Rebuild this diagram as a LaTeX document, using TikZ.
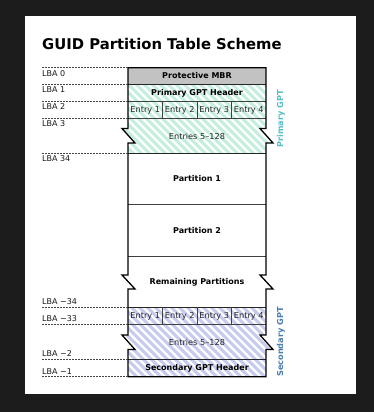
\documentclass[tikz,border=0pt]{standalone}
\usepackage{fontspec}
\setmainfont{DejaVu Sans}
\definecolor{bgdark}{HTML}{1C1C1C}
\definecolor{minthatch}{HTML}{C4EEDD}
\definecolor{lavhatch}{HTML}{C6CAEC}
\definecolor{mbrgray}{HTML}{C2C2C2}
\definecolor{pgptcol}{HTML}{55BEC6}
\definecolor{sgptcol}{HTML}{4A7EB0}
\definecolor{dashcol}{HTML}{444444}
\tikzset{
  outline/.style={line width=1.3pt, black, line join=miter},
  sepline/.style={line width=0.9pt, black!85},
  thinsep/.style={line width=0.8pt, black!75},
  lbaline/.style={dashcol, line width=0.65pt, dash pattern=on 2pt off 1pt},
  lbalabel/.style={anchor=base west, inner sep=0pt, font=\fontsize{8}{9}\selectfont, text=black!90},
  celltext/.style={anchor=base, inner sep=0pt, font=\bfseries\fontsize{8}{9.5}\selectfont},
  entrytext/.style={anchor=base, inner sep=0pt, font=\fontsize{8.2}{9.5}\selectfont, text=black!85},
  sidelabel/.style={rotate=90, inner sep=0pt, font=\bfseries\fontsize{8.2}{9.5}\selectfont},
}
\begin{document}
\begin{tikzpicture}[x=1pt,y=-1pt]
\useasboundingbox (0,0) rectangle (374,412);
\fill[bgdark] (0,0) rectangle (374,412);
\fill[white] (25,16) rectangle (356,394);

% title
\node[anchor=base west, inner sep=0pt, font=\bfseries\fontsize{14.8}{17}\selectfont] (title) at (42,50) {GUID Partition Table Scheme};

% protective MBR fill
\fill[mbrgray] (128,67.7) rectangle (266,84.3);

% primary GPT hatched region
\begin{scope}
\clip (128,84.3) -- (266,84.3) -- (266,128.5) -- (260,128.5) -- (273,143) -- (266,143) -- (266,153.3) -- (128,153.3) -- (128,143) -- (135,143) -- (122,128.5) -- (128,128.5) -- cycle;
\foreach \x in {20,28,...,290} \draw[minthatch, line width=2.9pt] (\x,80) -- ++(80,80);
\end{scope}

% secondary GPT hatched region
\begin{scope}
\clip (128,307.3) -- (266,307.3) -- (266,335) -- (260,335) -- (273,349.5) -- (266,349.5) -- (266,376.7) -- (128,376.7) -- (128,349.5) -- (135,349.5) -- (122,335) -- (128,335) -- cycle;
\foreach \x in {20,28,...,290} \draw[lavhatch, line width=2.9pt] (\x,300) -- ++(85,85);
\end{scope}

% inner separators
\draw[sepline] (128,84.3) -- (266,84.3);
\draw[thinsep] (128,101.3) -- (266,101.3);
\draw[thinsep] (128,118.3) -- (266,118.3);
\draw[sepline] (128,153.3) -- (266,153.3);
\draw[thinsep] (128,204.3) -- (266,204.3);
\draw[thinsep] (128,256) -- (266,256);
\draw[sepline] (128,307.3) -- (266,307.3);
\draw[thinsep] (128,324.3) -- (266,324.3);
\draw[sepline] (128,359.3) -- (266,359.3);
\foreach \x in {162.5,197,231.5} {
  \draw[thinsep] (\x,101.3) -- (\x,118.3);
  \draw[thinsep] (\x,307.3) -- (\x,324.3);
}

% outline
\draw[outline] (128,67.7) -- (266,67.7)
  -- (266,128.5) -- (260,128.5) -- (273,143) -- (266,143)
  -- (266,275) -- (260,275) -- (273,289) -- (266,289)
  -- (266,335) -- (260,335) -- (273,349.5) -- (266,349.5)
  -- (266,376.7) -- (128,376.7)
  -- (128,349.5) -- (135,349.5) -- (122,335) -- (128,335)
  -- (128,289) -- (135,289) -- (122,275) -- (128,275)
  -- (128,143) -- (135,143) -- (122,128.5) -- (128,128.5)
  -- cycle;

% LBA dashed lines and labels
\foreach \yy in {67.7,84.3,101.3,118.3,153.3,307.3,324.3,359.3,376.7}
  \draw[lbaline] (42,\yy) -- (128,\yy);
\node[lbalabel] (lba0) at (42,76) {LBA 0};
\node[lbalabel] (lba1) at (42,92.6) {LBA 1};
\node[lbalabel] (lba2) at (42,109.6) {LBA 2};
\node[lbalabel] (lba3) at (42,126.6) {LBA 3};
\node[lbalabel] (lba34) at (42,161.6) {LBA 34};
\node[lbalabel] (lbam34) at (42,304.6) {LBA −34};
\node[lbalabel] (lbam33) at (42,321.6) {LBA −33};
\node[lbalabel] (lbam2) at (42,356.6) {LBA −2};
\node[lbalabel] (lbam1) at (42,374) {LBA −1};

% cell texts
\node[celltext] (mbr) at (197,78.9) {Protective MBR};
\node[celltext] (pgh) at (197,95.7) {Primary GPT Header};
\node[entrytext] (pe1) at (145.25,112.7) {Entry 1};
\node[entrytext] (pe2) at (179.75,112.7) {Entry 2};
\node[entrytext] (pe3) at (214.25,112.7) {Entry 3};
\node[entrytext] (pe4) at (248.75,112.7) {Entry 4};
\node[entrytext] (pe5) at (197,139.2) {Entries 5–128};
\node[celltext] (part1) at (197,181.9) {Partition 1};
\node[celltext] (part2) at (197,233.1) {Partition 2};
\node[celltext] (rem) at (197,284.3) {Remaining Partitions};
\node[entrytext] (se1) at (145.25,318.7) {Entry 1};
\node[entrytext] (se2) at (179.75,318.7) {Entry 2};
\node[entrytext] (se3) at (214.25,318.7) {Entry 3};
\node[entrytext] (se4) at (248.75,318.7) {Entry 4};
\node[entrytext] (se5) at (197,345.2) {Entries 5–128};
\node[celltext] (sgh) at (197,370.9) {Secondary GPT Header};

% side labels
\node[sidelabel, text=pgptcol] (pgpt) at (281,118.8) {Primary GPT};
\node[sidelabel, text=sgptcol] (sgpt) at (281,342) {Secondary GPT};
\end{tikzpicture}
\end{document}
